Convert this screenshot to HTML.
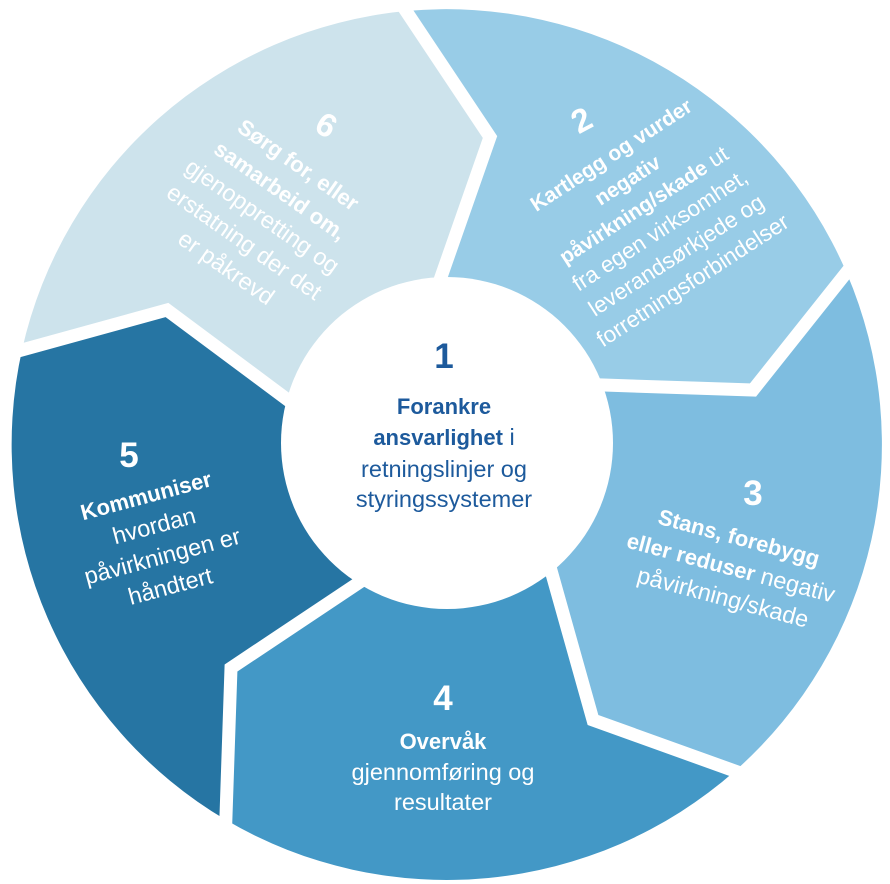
<!DOCTYPE html>
<html>
<head>
<meta charset="utf-8">
<style>
html,body{margin:0;padding:0;background:#fff;}
svg{display:block;}
text{font-family:"Liberation Sans",Arial,sans-serif;}
</style>
</head>
<body>
<svg width="890" height="884" viewBox="0 0 890 884" xmlns="http://www.w3.org/2000/svg">
  <!-- segments -->
  <path fill="#98cce7" d="M406,11 A436,436 0 0 1 846.5,272.5 L753,390 L602,385 L447,443 L441,277 L490,137 Z"/>
  <path fill="#7ebde0" d="M846.5,272.5 A436,436 0 0 1 735,771 L593,720 L552,574 L447,443 L602,385 L753,390 Z"/>
  <path fill="#4398c6" d="M735,771 A436,436 0 0 1 226,820 L231,668 L357,584 L447,443 L552,574 L593,720 Z"/>
  <path fill="#2675a3" d="M226,820 A436,436 0 0 1 22,350 L167,310 L288,400 L447,443 L357,584 L231,668 Z"/>
  <path fill="#cde3ec" d="M22,350 A436,436 0 0 1 406,11 L490,137 L441,277 L447,443 L288,400 L167,310 Z"/>

  <!-- white gaps -->
  <g fill="none" stroke="#ffffff" stroke-width="13" stroke-linejoin="miter" stroke-miterlimit="10">
    <polyline points="392,-10 490,137 434.4,295.9"/>
    <polyline points="862,253 753,390 582,384.3"/>
    <polyline points="758.5,779.5 593,720 546.6,554.7"/>
    <polyline points="225,845 231,668 373.6,572.9"/>
    <polyline points="-2,356.6 167,310 304,412"/>
  </g>

  <!-- inner circle -->
  <circle cx="447" cy="443" r="166" fill="#ffffff"/>

  <!-- center text -->
  <g fill="#1d5a9c" text-anchor="middle">
    <text x="444" y="368" font-size="35" font-weight="bold">1</text>
    <text x="444" y="414" font-size="22" font-weight="bold">Forankre</text>
    <text x="444" y="445" font-size="23.5"><tspan font-weight="bold" font-size="22">ansvarlighet</tspan> i</text>
    <text x="444" y="477" font-size="23.5">retningslinjer og</text>
    <text x="444" y="507" font-size="23.5">styringssystemer</text>
  </g>

  <!-- segment 4 -->
  <g fill="#ffffff" text-anchor="middle">
    <text x="443" y="710" font-size="35" font-weight="bold">4</text>
    <text x="443" y="749" font-size="22" font-weight="bold">Overvåk</text>
    <text x="443" y="780" font-size="23.5">gjennomføring og</text>
    <text x="443" y="810" font-size="23.5">resultater</text>
  </g>

  <!-- segment 5 -->
  <g fill="#ffffff" text-anchor="middle">
    <text x="129" y="467" font-size="35" font-weight="bold">5</text>
    <g transform="translate(148,503) rotate(-15)">
      <text x="0" y="0" font-size="22" font-weight="bold">Kommuniser</text>
      <text x="0" y="31.5" font-size="23.5">hvordan</text>
      <text x="0" y="63" font-size="23.5">påvirkningen er</text>
      <text x="0" y="94" font-size="23.5">håndtert</text>
    </g>
  </g>

  <!-- segment 3 -->
  <g fill="#ffffff" text-anchor="middle">
    <text x="753" y="505" font-size="35" font-weight="bold">3</text>
    <g transform="translate(737,545) rotate(15)">
      <text x="0" y="0" font-size="22" font-weight="bold">Stans, forebygg</text>
      <text x="0" y="31" font-size="23.5"><tspan font-weight="bold" font-size="22">eller reduser</tspan> negativ</text>
      <text x="0" y="62" font-size="23.5">påvirkning/skade</text>
    </g>
  </g>

  <!-- segment 6 -->
  <g fill="#ffffff" text-anchor="middle">
    <g transform="translate(327,124) rotate(30)">
      <text x="0" y="12.5" font-size="33" font-weight="bold">6</text>
    </g>
    <g transform="translate(294,171) rotate(35)">
      <text x="0" y="0" font-size="22" font-weight="bold">Sørg for, eller</text>
      <text x="0" y="31.5" font-size="22" font-weight="bold">samarbeid om,</text>
      <text x="0" y="63" font-size="23.5">gjenoppretting og</text>
      <text x="0" y="94.5" font-size="23.5">erstatning der det</text>
      <text x="0" y="126" font-size="23.5">er påkrevd</text>
    </g>
  </g>

  <!-- segment 2 -->
  <g fill="#ffffff" text-anchor="middle">
    <g transform="translate(581,119) rotate(-28)">
      <text x="0" y="12.5" font-size="33" font-weight="bold">2</text>
    </g>
    <g transform="translate(615,161) rotate(-33)">
      <text x="0" y="0" font-size="21" font-weight="bold">Kartlegg og vurder</text>
      <text x="0" y="30" font-size="21" font-weight="bold">negativ</text>
      <text x="0" y="60" font-size="22.5"><tspan font-weight="bold" font-size="21">påvirkning/skade</tspan> ut</text>
      <text x="0" y="90" font-size="22.5">fra egen virksomhet,</text>
      <text x="0" y="120" font-size="22.5">leverandsørkjede og</text>
      <text x="0" y="150" font-size="22.5">forretningsforbindelser</text>
    </g>
  </g>
</svg>
</body>
</html>
